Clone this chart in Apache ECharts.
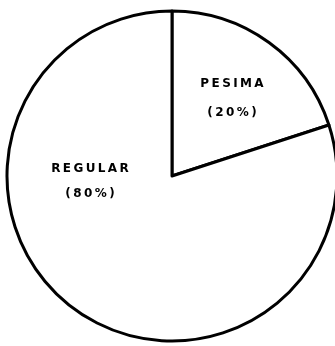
<!DOCTYPE html>
<html>
<head>
<meta charset="utf-8">
<script src="https://cdn.jsdelivr.net/npm/echarts@6/dist/echarts.min.js"></script>
<style>
  html, body { margin: 0; padding: 0; background: #fff; }
  #chart { width: 335px; height: 346px; }
</style>
</head>
<body>
<div id="chart"></div>
<script>
// Opinion shares drawn as a two-slice pie
const categories = ['PESIMA', 'REGULAR'];
const shares = [20, 80];

// Spread letters apart for the wide stencil-like lettering
const spaced = s => s.split('').join('\u2009');

// Label block centres and line spacing, per slice
const labelSpots = [
  { x: 232, y: 98, gap: 29 },
  { x: 90, y: 181, gap: 25 }
];

const chart = echarts.init(document.getElementById('chart'), null, { renderer: 'canvas' });

chart.setOption({
  backgroundColor: '#ffffff',
  animation: false,
  series: [{
    type: 'pie',
    center: [172, 176],
    radius: 165,
    startAngle: 90,
    clockwise: true,
    avoidLabelOverlap: false,
    data: categories.map((name, i) => ({
      name,
      value: shares[i],
      label: { lineHeight: labelSpots[i].gap }
    })),
    itemStyle: {
      color: '#ffffff',
      borderColor: '#000000',
      borderWidth: 3
    },
    emphasis: { disabled: true },
    label: {
      show: true,
      position: 'inside',
      color: '#000000',
      fontFamily: 'DejaVu Sans',
      fontWeight: 'bold',
      fontSize: 12,
      align: 'center',
      formatter: p => spaced(p.name) + '\n' + spaced('(' + p.value + '%)')
    },
    labelLine: { show: false },
    labelLayout: params => {
      const s = labelSpots[params.dataIndex];
      return { x: s.x, y: s.y, align: 'center', verticalAlign: 'middle' };
    }
  }]
});
</script>
</body>
</html>
